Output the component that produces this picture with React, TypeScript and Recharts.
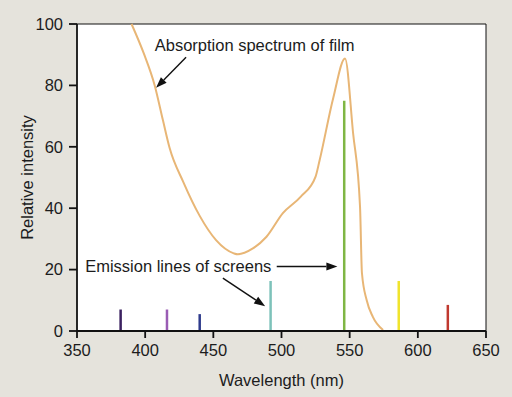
import React from "react";
import { ComposedChart, Line, XAxis, YAxis, CartesianGrid, ReferenceLine, ReferenceDot, Label } from "recharts";

// absorption spectrum of film (wavelength nm, relative intensity)
const filmWavelengths = [390, 399, 407, 413, 418, 428, 440, 452, 465, 468, 479, 489, 501, 514, 525, 528, 538, 546.6, 552.5, 557.6, 559, 562.5, 567, 574.5];
const filmValues = [100, 90.4, 80, 68.7, 59.5, 48.5, 37.5, 29.6, 25.3, 25, 26.9, 30.7, 38.4, 43.7, 50.3, 55.7, 76, 88.8, 64.5, 40.5, 18.9, 10, 4.6, 0.3];

// emission lines of screens
const lineWavelengths = [382, 416, 440, 492, 546, 586, 622];
const lineHeights = [7, 7, 5.5, 16.3, 75, 16.3, 8.5];
const lineColors = ["#3b2160", "#9a5cb4", "#2f3b8c", "#7dc2ba", "#7fb644", "#f0e42c", "#c0392f"];

const xTicks = [350, 400, 450, 500, 550, 600, 650];
const yTicks = [0, 20, 40, 60, 80, 100];

const data = filmWavelengths.map((w, i) => ({ w, film: filmValues[i] }));

const FONT = "'Liberation Sans', Arial, Helvetica, sans-serif";
const CURVE = "#e8b676";
const TEXT = { fontSize: 16.5, fill: "#1c1c1c", fontFamily: FONT };

function Arrow(props: any) {
  const { x1, y1, x2, y2 } = props;
  if (x1 == null || x2 == null) return null;
  const ang = Math.atan2(y2 - y1, x2 - x1);
  const len = 11;
  const half = 4;
  const bx = x2 - len * Math.cos(ang);
  const by = y2 - len * Math.sin(ang);
  const px = -Math.sin(ang) * half;
  const py = Math.cos(ang) * half;
  return (
    <g>
      <line x1={x1} y1={y1} x2={bx} y2={by} stroke="#111" strokeWidth={1.4} />
      <polygon points={`${x2},${y2} ${bx + px},${by + py} ${bx - px},${by - py}`} fill="#111" />
    </g>
  );
}

export default function App() {
  return (
    <div style={{ width: 512, height: 397, background: "#e5e3dc", fontFamily: FONT }}>
      <style>{"body{margin:0}"}</style>
      <ComposedChart width={512} height={397} data={data} margin={{ top: 24, right: 26, bottom: 0, left: 0 }}>
        <CartesianGrid horizontal={false} vertical={false} fill="#ffffff" />
        <XAxis
          dataKey="w"
          type="number"
          domain={[350, 650]}
          ticks={xTicks}
          height={66}
          tickSize={7}
          tickMargin={6}
          stroke="#111"
          strokeWidth={1.8}
          tick={TEXT}
        >
          <Label value="Wavelength (nm)" position="insideBottom" offset={11} style={TEXT} />
        </XAxis>
        <YAxis
          type="number"
          domain={[0, 100]}
          ticks={yTicks}
          width={77}
          tickSize={8}
          tickMargin={6}
          stroke="#111"
          strokeWidth={1.8}
          tick={TEXT}
        >
          <Label value="Relative intensity" angle={-90} position="insideLeft" offset={27} style={{ ...TEXT, textAnchor: "middle" }} />
        </YAxis>
        <ReferenceLine y={100} stroke="#111" strokeWidth={1} />
        <ReferenceLine x={650} stroke="#111" strokeWidth={1} />
        {lineWavelengths.map((w, i) => (
          <ReferenceLine
            key={w}
            segment={[{ x: w, y: 0 }, { x: w, y: lineHeights[i] }]}
            stroke={lineColors[i]}
            strokeWidth={2.5}
          />
        ))}
        <Line type="monotone" dataKey="film" stroke={CURVE} strokeWidth={2} dot={false} isAnimationActive={false} />
        <ReferenceLine segment={[{ x: 430, y: 89.2 }, { x: 408, y: 79.2 }]} shape={Arrow} />
        <ReferenceLine segment={[{ x: 496.5, y: 21 }, { x: 541, y: 21 }]} shape={Arrow} />
        <ReferenceLine segment={[{ x: 457, y: 17.2 }, { x: 488, y: 8.1 }]} shape={Arrow} />
        <ReferenceDot x={407} y={93.2} r={0} fill="none" stroke="none">
          <Label value="Absorption spectrum of film" position="right" offset={0} style={TEXT} />
        </ReferenceDot>
        <ReferenceDot x={356} y={21} r={0} fill="none" stroke="none">
          <Label value="Emission lines of screens" position="right" offset={0} style={TEXT} />
        </ReferenceDot>
      </ComposedChart>
    </div>
  );
}
